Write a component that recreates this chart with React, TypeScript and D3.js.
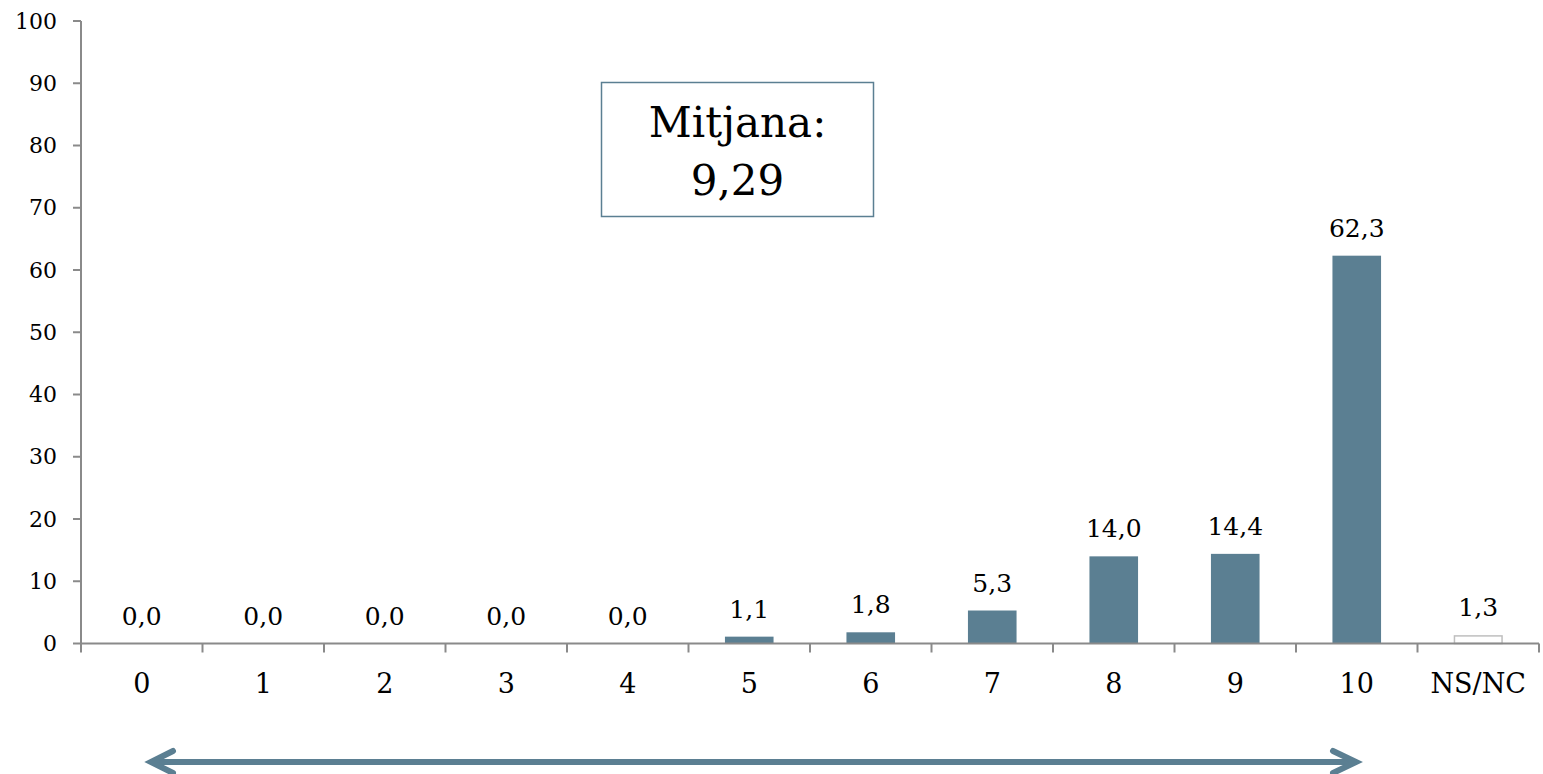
import React, { useEffect } from "react";
import * as d3 from "d3";

const categories = ["0", "1", "2", "3", "4", "5", "6", "7", "8", "9", "10", "NS/NC"];
const values = [0.0, 0.0, 0.0, 0.0, 0.0, 1.1, 1.8, 5.3, 14.0, 14.4, 62.3, 1.3];
const yTicks = [0, 10, 20, 30, 40, 50, 60, 70, 80, 90, 100];
const meanLabel = ["Mitjana:", "9,29"];

const W = 1543;
const H = 774;
const FONT = "'DejaVu Serif', Georgia, serif";
const BAR = "#5B7F92";
const AXIS = "#8A8A8A";

export default function App() {
  useEffect(() => {
    document.body.style.margin = "0";
  }, []);

  const band = d3.scaleBand<string>().domain(categories).range([81, 1539]);
  const y = d3.scaleLinear().domain([0, 100]).range([643.5, 21]);
  const fmt = (v: number) => v.toFixed(1).replace(".", ",");

  const boundaries = d3.range(categories.length + 1).map((i) => 81 + i * band.step());

  const arrowY = 762;

  return (
    <svg width={W} height={H} style={{ position: "absolute", left: 0, top: 0, background: "#fff" }}>
      {/* bars */}
      {categories.map((c, i) => {
        const v = values[i];
        const isNs = c === "NS/NC";
        const bw = band.bandwidth() * 0.4;
        const cx = band(c)! + band.bandwidth() / 2;
        return (
          <g key={c}>
            {v > 0 && (
              <rect
                x={cx - bw / 2 + (isNs ? 0.5 : 0)}
                y={y(v) + (isNs ? 0.5 : 0)}
                width={bw - (isNs ? 1 : 0)}
                height={y(0) - y(v) - (isNs ? 0.5 : 0)}
                fill={isNs ? "#fff" : BAR}
                stroke={isNs ? "#BFBFBF" : "none"}
                strokeWidth={isNs ? 1.5 : 0}
              />
            )}
            <text
              x={cx}
              y={y(v) - 19}
              textAnchor="middle"
              fontFamily={FONT}
              fontSize={25}
              fill="#000"
            >
              {fmt(v)}
            </text>
            <text
              x={cx}
              y={693}
              textAnchor="middle"
              fontFamily={FONT}
              fontSize={27}
              fill="#000"
            >
              {c}
            </text>
          </g>
        );
      })}

      {/* y axis */}
      <line x1={81} x2={81} y1={y(100)} y2={y(0)} stroke={AXIS} strokeWidth={2} />
      {yTicks.map((t) => (
        <g key={t}>
          <line x1={73} x2={81} y1={y(t)} y2={y(t)} stroke={AXIS} strokeWidth={2} />
          <text
            x={57}
            y={y(t)}
            textAnchor="end"
            dominantBaseline="central"
            fontFamily={FONT}
            fontSize={22}
            fill="#000"
          >
            {t}
          </text>
        </g>
      ))}

      {/* x axis */}
      <line x1={81} x2={1539} y1={y(0)} y2={y(0)} stroke={AXIS} strokeWidth={2} />
      {boundaries.map((b, i) => (
        <line key={i} x1={b} x2={b} y1={y(0)} y2={y(0) + 9} stroke={AXIS} strokeWidth={2} />
      ))}

      {/* mean box */}
      <rect x={601.5} y={82.5} width={272} height={134} fill="#fff" stroke="#5B7F92" strokeWidth={1.5} />
      <text x={737.5} y={136.5} textAnchor="middle" fontFamily={FONT} fontSize={42} fill="#000">
        {meanLabel[0]}
      </text>
      <text x={737.5} y={195} textAnchor="middle" fontFamily={FONT} fontSize={42} fill="#000">
        {meanLabel[1]}
      </text>

      {/* double arrow */}
      <g stroke={BAR} strokeWidth={6} fill="none" strokeLinecap="round" strokeLinejoin="miter">
        <line x1={152} x2={1355} y1={arrowY} y2={arrowY} strokeLinecap="butt" />
        <polyline points={`${173},${arrowY - 11} ${151},${arrowY} ${173},${arrowY + 11}`} />
        <polyline points={`${1333},${arrowY - 11} ${1356},${arrowY} ${1333},${arrowY + 11}`} />
      </g>
    </svg>
  );
}
